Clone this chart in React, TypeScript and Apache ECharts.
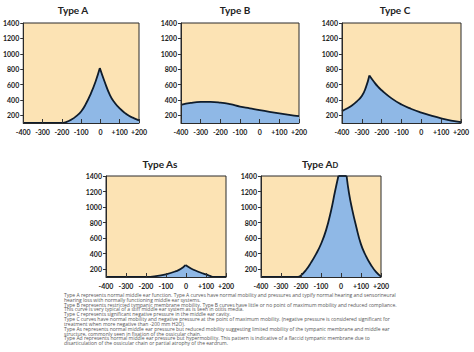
import React, { useEffect, useRef } from "react";
import * as echarts from "echarts";

const xTicks = [-400, -300, -200, -100, 0, 100, 200];
const yTickLabels = [200, 400, 600, 800, 1000, 1200, 1400];

const typeALeft = [[-400, 100], [-300, 100], [-205, 100], [-175, 115], [-150, 145], [-125, 190], [-100, 250], [-75, 350], [-50, 480], [-25, 640], [-3, 815]];
const typeARight = [[-3, 815], [20, 650], [50, 460], [75, 360], [100, 290], [125, 235], [150, 190], [175, 160], [200, 135]];

const typeB = [[-400, 337], [-350, 362], [-300, 374], [-250, 375], [-200, 366], [-150, 345], [-100, 314], [-50, 290], [0, 266], [50, 244], [100, 224], [150, 206], [200, 190]];

const typeCLeft = [[-400, 255], [-375, 288], [-350, 328], [-325, 382], [-300, 450], [-280, 560], [-262, 718]];
const typeCRight = [[-262, 718], [-240, 640], [-220, 575], [-200, 525], [-150, 420], [-100, 340], [-50, 282], [0, 235], [50, 195], [100, 160], [150, 132], [200, 112]];

const typeAsLeft = [[-400, 100], [-200, 100], [-150, 110], [-100, 135], [-50, 175], [-25, 205], [-3, 253]];
const typeAsRight = [[-3, 253], [25, 210], [50, 180], [75, 155], [100, 134], [120, 114], [140, 100], [200, 100]];

const typeAdLeft = [[-400, 100], [-215, 100], [-200, 120], [-175, 190], [-150, 285], [-125, 395], [-100, 525], [-75, 700], [-50, 950], [-30, 1200], [-13, 1400]];
const typeAdTop = [[-13, 1400], [28, 1400]];
const typeAdRight = [[28, 1400], [40, 1180], [55, 980], [75, 760], [100, 520], [125, 370], [150, 255], [175, 165], [200, 105]];

const titles = ["Type A", "Type B", "Type C", "Type As", "Type A"];

const notes = [
  "Type A represents normal middle ear function. Type A curves have normal mobility and pressures and typify normal hearing and sensorineural",
  "hearing loss with normally functioning middle ear systems.",
  "Type B represents restricted tympanic membrane mobility. Type B curves have little or no point of maximum mobility and reduced compliance.",
  "This curve is very typical of a stiff middle ear system as is seen in otitis media.",
  "Type C represents significant negative pressure in the middle ear cavity.",
  "Type C curves have normal mobility and negative pressure at the point of maximum mobility. (negative pressure is considered significant for",
  "treatment when more negative than -200 mm H2O).",
  "Type As represents normal middle ear pressure but reduced mobility suggesting limited mobility of the tympanic membrane and middle ear",
  "structure, commonly seen in fixation of the ossicular chain.",
  "Type Ad represents normal middle ear pressure but hypermobility. This pattern is indicative of a flaccid tympanic membrane due to",
  "disarticulation of the ossicular chain or partial atrophy of the eardrum.",
];

const grids = [
  { left: 20, top: 23, width: 119, height: 100 },
  { left: 181, top: 23, width: 118, height: 100 },
  { left: 342, top: 23, width: 119, height: 100 },
  { left: 106, top: 176, width: 120, height: 101 },
  { left: 261, top: 176, width: 120, height: 101 },
];

const FONT = "Lato, 'Open Sans', sans-serif";
const BEIGE = "#fce3b4";
const BLUE = "#8fb8e6";
const OUTLINE = "#0f1c2b";

export default function App() {
  const ref = useRef<HTMLDivElement>(null);
  useEffect(() => {
    if (!ref.current) return;
    const chart = echarts.init(ref.current, null, { renderer: "svg" });

    const xAxis = grids.map((_, i) => ({
      type: "value",
      gridIndex: i,
      min: -400,
      max: 200,
      interval: 100,
      z: 5,
      axisLine: { show: true, onZero: false, lineStyle: { color: "#2a2a2a", width: 1 } },
      axisTick: { show: true, inside: true, length: 4, lineStyle: { color: "#333", width: 1 } },
      splitLine: { show: false },
      axisLabel: {
        fontFamily: FONT,
        fontWeight: "bold",
        fontSize: 7,
        color: "#222",
        margin: 5,
        customValues: xTicks,
        formatter: (v: number) => (v > 0 ? "+" + v : String(v)),
      },
    }));

    const yAxis = grids.map((_, i) => ({
      type: "value",
      gridIndex: i,
      min: 100,
      max: 1400,
      z: 5,
      axisLine: { show: true, onZero: false, lineStyle: { color: "#2a2a2a", width: 1 } },
      axisTick: { show: true, inside: false, length: 3, customValues: yTickLabels, lineStyle: { color: "#333", width: 1 } },
      splitLine: { show: false },
      axisLabel: {
        fontFamily: FONT,
        fontWeight: "bold",
        fontSize: 7,
        color: "#222",
        margin: 4,
        customValues: yTickLabels,
        formatter: (v: number) => String(v),
      },
    }));

    const outline = (data: number[][], idx: number, smooth: boolean | number = true) => ({
      type: "line",
      xAxisIndex: idx,
      yAxisIndex: idx,
      data,
      smooth,
      showSymbol: false,
      symbol: "none",
      lineStyle: { color: OUTLINE, width: 1.8 },
      z: 3,
    });

    const fill = (data: number[][], idx: number, smooth: boolean = false) => ({
      type: "line",
      xAxisIndex: idx,
      yAxisIndex: idx,
      data,
      smooth,
      showSymbol: false,
      symbol: "none",
      lineStyle: { width: 0, opacity: 0 },
      areaStyle: { color: BLUE, opacity: 1, origin: "start" },
      z: 2,
    });

    const series = [
      fill([...typeALeft, ...typeARight.slice(1)], 0),
      fill(typeB, 1, true),
      fill([...typeCLeft, ...typeCRight.slice(1)], 2),
      fill([...typeAsLeft, ...typeAsRight.slice(1)], 3),
      fill([...typeAdLeft, ...typeAdRight], 4),
      outline(typeALeft, 0),
      outline(typeARight, 0),
      outline(typeB, 1),
      outline(typeCLeft, 2),
      outline(typeCRight, 2),
      outline(typeAsLeft, 3),
      outline(typeAsRight, 3),
      outline(typeAdLeft, 4),
      outline(typeAdTop, 4, false),
      outline(typeAdRight, 4),
    ];

    const titlePos = [
      [73, 10],
      [235, 10],
      [395, 10],
      [160, 164],
      [320, 164],
    ];

    const graphic: any[] = titles.map((t, i) => ({
      type: "text",
      x: titlePos[i][0],
      y: titlePos[i][1],
      style: i === 4
        ? {
            text: "{a|" + t + "}{b|D}",
            align: "center",
            verticalAlign: "middle",
            rich: {
              a: { fontFamily: FONT, fontWeight: "bold", fontSize: 10, fill: "#222" },
              b: { fontFamily: FONT, fontWeight: "bold", fontSize: 7.5, fill: "#222", padding: [2, 0, 0, 0] },
            },
          }
        : {
            text: t,
            align: "center",
            verticalAlign: "middle",
            fontFamily: FONT,
            fontWeight: "bold",
            fontSize: 10,
            fill: "#222",
          },
    }));

    graphic.push({
      type: "text",
      x: 64,
      y: 292.6,
      style: {
        text: notes.join("\n"),
        fontFamily: "'Open Sans', sans-serif",
        fontSize: 5,
        lineHeight: 4.82,
        fill: "#555",
        align: "left",
        verticalAlign: "top",
      },
    });

    chart.setOption({
      animation: false,
      backgroundColor: "#ffffff",
      grid: grids.map((g) => ({
        ...g,
        show: true,
        backgroundColor: BEIGE,
        borderColor: "#2a2a2a",
        borderWidth: 1,
        containLabel: false,
      })),
      xAxis,
      yAxis,
      series,
      graphic,
    });
    return () => chart.dispose();
  }, []);
  return (
    <div
      ref={ref}
      style={{ position: "fixed", left: 0, top: 0, width: 474, height: 352 }}
    />
  );
}
